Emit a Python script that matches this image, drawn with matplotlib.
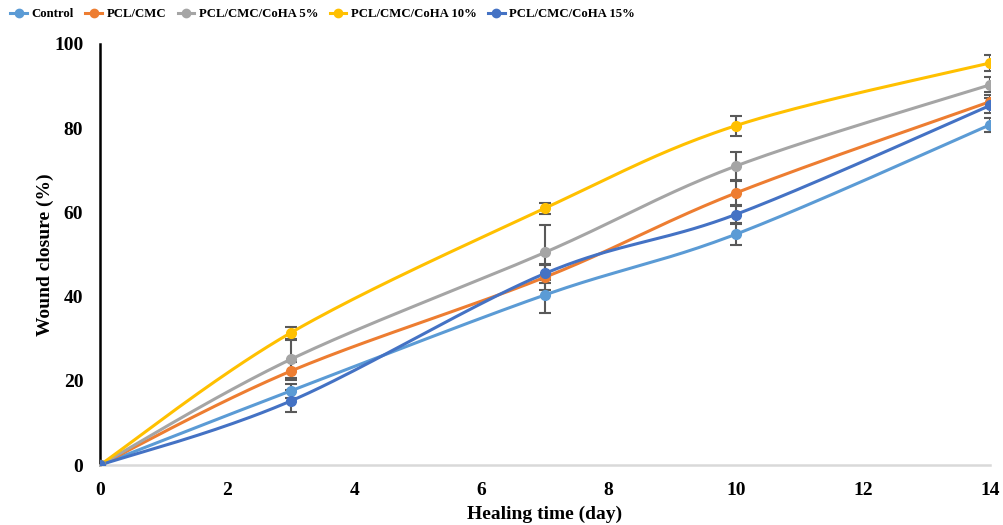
import numpy as np
import matplotlib
matplotlib.use("Agg")
import matplotlib.pyplot as plt
from matplotlib.lines import Line2D

days = [0, 3, 7, 10, 14]
series_names = ["Control", "PCL/CMC", "PCL/CMC/CoHA 5%", "PCL/CMC/CoHA 10%", "PCL/CMC/CoHA 15%"]
control = [0, 17.6, 40.4, 54.8, 80.8]
pcl_cmc = [0, 22.3, 44.6, 64.6, 86.3]
coha5 = [0, 25.1, 50.5, 71.0, 90.3]
coha10 = [0, 31.4, 61.0, 80.6, 95.5]
coha15 = [0, 15.2, 45.5, 59.5, 85.4]
control_err = [0, 1.6, 4.4, 2.5, 1.6]
pcl_cmc_err = [0, 2.2, 3.0, 2.8, 1.5]
coha5_err = [0, 4.5, 6.5, 3.3, 1.8]
coha10_err = [0, 1.4, 1.3, 2.4, 2.0]
coha15_err = [0, 2.6, 2.2, 2.0, 1.8]
colors = ["#5B9BD5", "#ED7D31", "#A5A5A5", "#FFC000", "#4472C4"]

values = [control, pcl_cmc, coha5, coha10, coha15]
errors = [control_err, pcl_cmc_err, coha5_err, coha10_err, coha15_err]

FONT = "Liberation Serif"
plt.rcParams['font.family'] = FONT


def smooth(x, y, n=40):
    # Excel-style smoothed line: cubic Bezier with control points from neighbours
    x = np.asarray(x, float); y = np.asarray(y, float)
    px, py = [], []
    N = len(x)
    for i in range(N - 1):
        x0, y0 = (x[i - 1], y[i - 1]) if i > 0 else (x[i], y[i])
        x3, y3 = (x[i + 2], y[i + 2]) if i + 2 < N else (x[i + 1], y[i + 1])
        x1, y1 = x[i], y[i]
        x2, y2 = x[i + 1], y[i + 1]
        c1x = x1 + (x2 - x0) / 6; c1y = y1 + (y2 - y0) / 6
        c2x = x2 - (x3 - x1) / 6; c2y = y2 - (y3 - y1) / 6
        t = np.linspace(0, 1, n)
        bx = (1-t)**3*x1 + 3*(1-t)**2*t*c1x + 3*(1-t)*t**2*c2x + t**3*x2
        by = (1-t)**3*y1 + 3*(1-t)**2*t*c1y + 3*(1-t)*t**2*c2y + t**3*y2
        px.extend(bx); py.extend(by)
    return np.array(px), np.array(py)


fig = plt.figure(figsize=(10.04, 5.25), dpi=100)
ax = fig.add_axes([100/1004, 60/525, 890/1004, 421/525])

for name, v, e, c in zip(series_names, values, errors, colors):
    sx, sy = smooth(days, v)
    ax.plot(sx, sy, color=c, lw=2.2, zorder=3, solid_capstyle='round')
    ax.errorbar(days, v, yerr=e, fmt='none', ecolor='#595959', elinewidth=1.5,
                capsize=4, capthick=1.5, zorder=2)
    ax.plot(days, v, 'o', color=c, ms=7, zorder=4)

ax.set_xlim(0, 14)
ax.set_ylim(0, 100)
ax.set_xticks(range(0, 15, 2))
ax.set_yticks(range(0, 101, 20))
for s in ['top', 'right']:
    ax.spines[s].set_visible(False)
ax.spines['left'].set_color('black')
ax.spines['left'].set_linewidth(1.8)
ax.spines['bottom'].set_color('#D9D9D9')
ax.spines['bottom'].set_linewidth(1.8)
ax.tick_params(length=0, labelsize=14, pad=12)
for lab in ax.get_xticklabels() + ax.get_yticklabels():
    lab.set_fontweight('bold')
ax.set_xlabel("Healing time (day)", fontsize=14, fontweight='bold', labelpad=5)
ax.set_ylabel("Wound closure (%)", fontsize=14, fontweight='bold', labelpad=0)

handles = [Line2D([0], [0], color=c, lw=2.2, marker='o', ms=6) for c in colors]
fig.legend(handles, series_names, loc='upper left', bbox_to_anchor=(-0.001, 1.006),
           ncol=5, frameon=False,
           prop={'family': FONT, 'weight': 'bold', 'size': 9.2},
           handlelength=1.3, handletextpad=0.35, columnspacing=0.9)

fig.savefig("out.png", dpi=100)
